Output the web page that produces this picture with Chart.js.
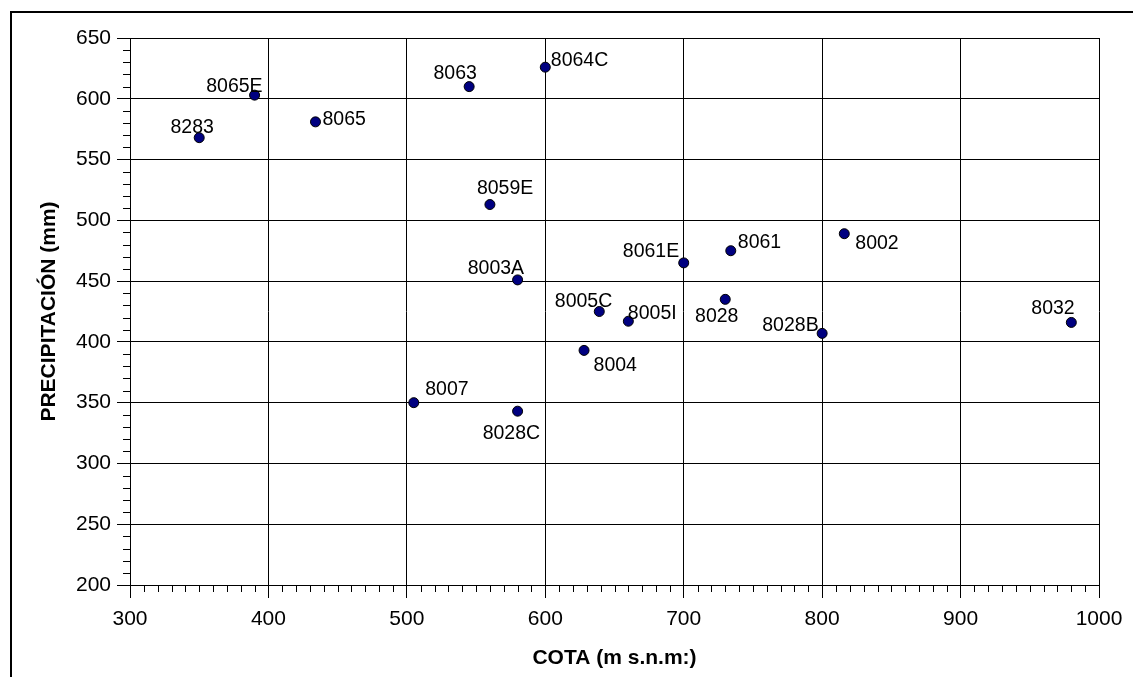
<!DOCTYPE html>
<html>
<head>
<meta charset="utf-8">
<script src="https://cdn.jsdelivr.net/npm/chart.js@4/dist/chart.umd.min.js"></script>
<style>
  html, body { margin: 0; padding: 0; background: #fff; }
  canvas { display: block; }
</style>
</head>
<body>
<canvas id="c" width="1133" height="677"></canvas>
<script>
// ---- data ----
const stations = ['8283','8065E','8065','8063','8064C','8059E','8003A','8061E','8005C','8005I','8004','8007','8028C','8028','8061','8002','8028B','8032'];
const cota     = [350, 390, 434, 545, 600, 560, 580, 700, 639, 660, 628, 505, 580, 730, 734, 816, 800, 980];
const precip   = [568, 603, 581, 610, 626, 513, 451, 465, 425, 417, 393, 350, 343, 435, 475, 489, 407, 416];
const xTickValues = [300, 400, 500, 600, 700, 800, 900, 1000];
const yTickValues = [200, 250, 300, 350, 400, 450, 500, 550, 600, 650];
const xTitle = 'COTA (m s.n.m:)';
const yTitle = 'PRECIPITACIÓN (mm)';

// ---- label placement (style only) : [dx, dy(baseline), align] ----
const labelPlacement = {
  '8283':  [-7, -4.4, 'center'],
  '8065E': [8, -3.3, 'right'],
  '8065':  [7, 2.7, 'left'],
  '8063':  [-14, -8, 'center'],
  '8064C': [5.5, -1.3, 'left'],
  '8059E': [-13, -10.6, 'left'],
  '8003A': [6.5, -6, 'right'],
  '8061E': [-4.5, -6, 'right'],
  '8005C': [13, -5, 'right'],
  '8005I': [-0.5, -2.6, 'left'],
  '8004':  [9.5, 20.4, 'left'],
  '8007':  [11.5, -7.7, 'left'],
  '8028C': [-6.2, 28, 'center'],
  '8028':  [-8.5, 22.7, 'center'],
  '8061':  [7, -3, 'left'],
  '8002':  [11, 15.3, 'left'],
  '8028B': [-3.5, -2.7, 'right'],
  '8032':  [-18.3, -8, 'center']
};

const FONT = '"Liberation Sans", Arial, sans-serif';

const points = cota.map((x, i) => ({ x: x, y: precip[i] }));

const framePlugin = {
  id: 'frame',
  beforeDraw(chart) {
    const ctx = chart.ctx;
    ctx.save();
    ctx.fillStyle = '#fff';
    ctx.fillRect(0, 0, chart.width, chart.height);
    ctx.strokeStyle = '#000';
    ctx.lineWidth = 2;
    ctx.beginPath();
    ctx.moveTo(11, chart.height + 2);
    ctx.lineTo(11, 12);
    ctx.lineTo(chart.width + 2, 12);
    ctx.stroke();
    ctx.restore();
  }
};

const minorTickPlugin = {
  id: 'minorTicks',
  afterDraw(chart) {
    const ctx = chart.ctx;
    const xs = chart.scales.x, ys = chart.scales.y;
    const area = chart.chartArea;
    ctx.save();
    ctx.strokeStyle = '#000';
    ctx.lineWidth = 1;
    ctx.beginPath();
    for (let v = xs.min; v <= xs.max; v += 10) {
      if (v % 100 === 0) continue;
      const px = Math.round(xs.getPixelForValue(v)) + 0.5;
      ctx.moveTo(px, area.bottom);
      ctx.lineTo(px, area.bottom + 7);
    }
    for (let v = ys.min; v <= ys.max; v += 10) {
      if (v % 50 === 0) continue;
      const py = Math.round(ys.getPixelForValue(v)) + 0.5;
      ctx.moveTo(area.left, py);
      ctx.lineTo(area.left - 7, py);
    }
    ctx.stroke();
    ctx.restore();
  }
};

const labelPlugin = {
  id: 'pointLabels',
  afterDatasetsDraw(chart) {
    const ctx = chart.ctx;
    const meta = chart.getDatasetMeta(0);
    ctx.save();
    ctx.font = '19.5px ' + FONT;
    ctx.fillStyle = '#000';
    ctx.textBaseline = 'alphabetic';
    meta.data.forEach((el, i) => {
      const name = stations[i];
      const p = labelPlacement[name] || [6, -6, 'left'];
      ctx.textAlign = p[2];
      ctx.fillText(name, el.x + p[0], el.y + p[1]);
    });
    ctx.restore();
  }
};

new Chart(document.getElementById('c'), {
  type: 'scatter',
  data: {
    datasets: [{
      data: points,
      pointRadius: 5,
      pointHoverRadius: 5,
      backgroundColor: '#000080',
      borderColor: '#000',
      borderWidth: 1
    }]
  },
  options: {
    responsive: false,
    devicePixelRatio: 1,
    animation: false,
    events: [],
    layout: { padding: { top: 38, right: 34, left: 0, bottom: 0 } },
    plugins: { legend: { display: false }, tooltip: { enabled: false } },
    scales: {
      x: {
        type: 'linear',
        position: 'bottom',
        min: xTickValues[0],
        max: xTickValues[xTickValues.length - 1],
        afterBuildTicks(s) { s.ticks = xTickValues.map(v => ({ value: v })); },
        afterFit(s) { s.height = 92; },
        ticks: { color: '#000', font: { family: FONT, size: 21 }, padding: 9, maxRotation: 0, callback: v => String(v) },
        grid: { color: '#000', lineWidth: 1, tickLength: 13, drawTicks: true },
        border: { display: true, color: '#000', width: 1 },
        title: { display: true, text: xTitle, color: '#000', font: { family: FONT, size: 21, weight: 'bold' }, padding: { top: 0, bottom: 6 } }
      },
      y: {
        type: 'linear',
        position: 'left',
        min: yTickValues[0],
        max: yTickValues[yTickValues.length - 1],
        afterBuildTicks(s) { s.ticks = yTickValues.map(v => ({ value: v })); },
        afterFit(s) { s.width = 130; },
        ticks: { color: '#000', font: { family: FONT, size: 21 }, padding: 6, callback: v => String(v) },
        grid: { color: '#000', lineWidth: 1, tickLength: 13, drawTicks: true },
        border: { display: true, color: '#000', width: 1 },
        title: { display: true, text: yTitle, color: '#000', font: { family: FONT, size: 21, weight: 'bold' }, padding: { top: 37, bottom: 0 } }
      }
    }
  },
  plugins: [framePlugin, minorTickPlugin, labelPlugin]
});
</script>
</body>
</html>
